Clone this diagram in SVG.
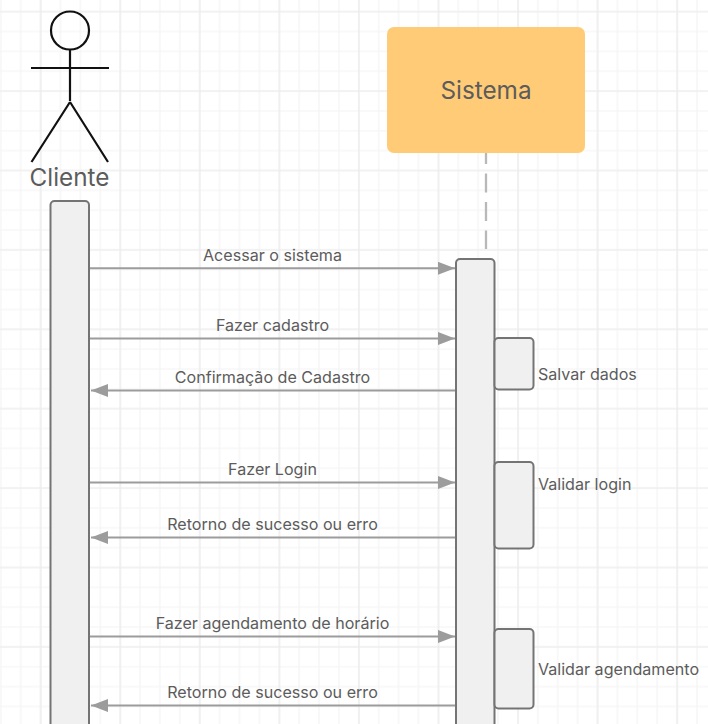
<svg xmlns="http://www.w3.org/2000/svg" width="708" height="724" viewBox="0 0 708 724">
<style>
text{font-family:"Inter","Liberation Sans",sans-serif;fill:#5c5c5c}
.lbl{font-size:16.100000px;text-anchor:middle}
.note{font-size:16.100000px}
.big{font-size:24.300000px;text-anchor:middle}
.act{fill:#f0f0f0;stroke:#747474;stroke-width:2}
.stick{fill:none;stroke:#111;stroke-width:2.200000}
.msg{fill:none;stroke:#9c9c9c;stroke-width:2}
</style>
<defs>
<pattern id="minor" patternUnits="userSpaceOnUse" x="-0.200000" y="10.700000" width="19.890000" height="19.850000"><path d="M0 1H19.890000M1 0V19.850000" fill="none" stroke="#f4f4f4" stroke-width="1.200000"/></pattern>
<pattern id="major" patternUnits="userSpaceOnUse" x="39.700000" y="10.700000" width="79.570000" height="79.400000"><path d="M0 1H79.570000M1 0V79.400000" fill="none" stroke="#ececec" stroke-width="1.200000"/></pattern>
<marker id="ah" markerUnits="userSpaceOnUse" markerWidth="18" markerHeight="14" refX="17" refY="6.500000" orient="auto-start-reverse"><path d="M0 0L17 6.500000L0 13Z" fill="#9c9c9c"/></marker>
</defs>
<rect width="708" height="724" fill="#fff"/>
<rect width="708" height="724" fill="url(#minor)"/>
<rect width="708" height="724" fill="url(#major)"/>
<g id="connectors">
<path d="M486 153V249" fill="none" stroke="#b8b8b8" stroke-width="2.300000" stroke-dasharray="19 9.500000" stroke-dashoffset="8"/>
<path class="msg" d="M89 268.300000H455" marker-end="url(#ah)"/>
<path class="msg" d="M89 338.500000H455" marker-end="url(#ah)"/>
<path class="msg" d="M456 390.500000H91" marker-end="url(#ah)"/>
<path class="msg" d="M89 482.500000H455" marker-end="url(#ah)"/>
<path class="msg" d="M456 537.500000H91" marker-end="url(#ah)"/>
<path class="msg" d="M89 636.500000H455" marker-end="url(#ah)"/>
<path class="msg" d="M456 705.500000H91" marker-end="url(#ah)"/>
<text class="lbl" x="272.500000" y="261">Acessar o sistema</text>
<text class="lbl" x="272.500000" y="331">Fazer cadastro</text>
<text class="lbl" x="272.500000" y="383">Confirmação de Cadastro</text>
<text class="lbl" x="272.500000" y="475">Fazer Login</text>
<text class="lbl" x="272.500000" y="530">Retorno de sucesso ou erro</text>
<text class="lbl" x="272.500000" y="629">Fazer agendamento de horário</text>
<text class="lbl" x="272.500000" y="698">Retorno de sucesso ou erro</text>
</g>
<g id="cliente">
<circle class="stick" cx="70" cy="30.500000" r="19"/>
<path class="stick" d="M70 49.500000V101M31 68H109M70 102L31.500000 162M70 102L108 162"/>
<text class="big" x="69.500000" y="186">Cliente</text>
</g>
<g id="sistema">
<rect x="387" y="27" width="198" height="126" rx="7" fill="#ffcb76"/>
<text class="big" x="486" y="99">Sistema</text>
</g>
<g id="ativacao-cliente"><rect class="act" x="50.500000" y="201" width="38.500000" height="540" rx="4"/></g>
<g id="ativacao-sistema"><rect class="act" x="456" y="259" width="38.500000" height="480" rx="4"/></g>
<g id="salvar-dados">
<rect class="act" x="494.500000" y="338" width="39" height="51.500000" rx="4"/>
<text class="note" x="538" y="380">Salvar dados</text>
</g>
<g id="validar-login">
<rect class="act" x="494.500000" y="462" width="39" height="86.500000" rx="4"/>
<text class="note" x="538" y="490">Validar login</text>
</g>
<g id="validar-agendamento">
<rect class="act" x="494.500000" y="629" width="39" height="79.500000" rx="4"/>
<text class="note" x="538" y="675">Validar agendamento</text>
</g>
</svg>
